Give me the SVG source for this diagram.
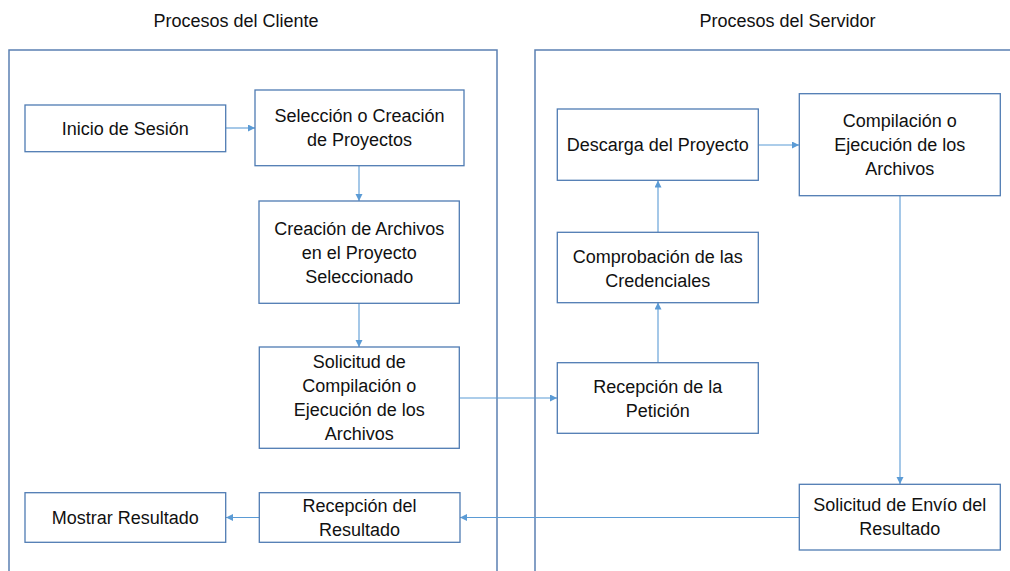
<svg xmlns="http://www.w3.org/2000/svg" width="1010" height="571" viewBox="0 0 1010 571">
<style>
.bg{fill:#ffffff}
.panel{fill:none;stroke:#5b80b2;stroke-width:1.5}
.box{fill:#ffffff;stroke:#4f7bb3;stroke-width:1.3}
.conn{fill:none;stroke:#5b9bd5;stroke-width:1.1}
.t{font-family:"Liberation Sans",Arial,sans-serif;font-size:18px;fill:#111;text-anchor:middle}
</style>
<defs>
<marker id="arr" markerUnits="userSpaceOnUse" markerWidth="8" markerHeight="8" refX="7" refY="3.5" orient="auto">
<path d="M0,0 L7,3.5 L0,7 z" fill="#5b9bd5"/>
</marker>
</defs>
<rect class="bg" x="0" y="0" width="1010" height="571"/>
<g id="panels">
<path class="panel" d="M9,572 V50 H497 V572"/>
<path class="panel" d="M535,572 V50 H1012"/>
<text class="t" x="236" y="27">Procesos del Cliente</text>
<text class="t" x="787.5" y="27">Procesos del Servidor</text>
</g>
<g id="connectors">
<path class="conn" d="M226,128 H255" marker-end="url(#arr)"/>
<path class="conn" d="M359,166 V201" marker-end="url(#arr)"/>
<path class="conn" d="M359,303.5 V347" marker-end="url(#arr)"/>
<path class="conn" d="M459.5,398 H557" marker-end="url(#arr)"/>
<path class="conn" d="M658,362.5 V302.5" marker-end="url(#arr)"/>
<path class="conn" d="M658,232 V180.5" marker-end="url(#arr)"/>
<path class="conn" d="M758.5,145 H799" marker-end="url(#arr)"/>
<path class="conn" d="M900,196 V484" marker-end="url(#arr)"/>
<path class="conn" d="M799,517.5 H460" marker-end="url(#arr)"/>
<path class="conn" d="M259,517.5 H226" marker-end="url(#arr)"/>
</g>
<g id="inicio">
<rect class="box" x="25" y="105" width="200.7" height="46.7"/>
<text class="t" x="125.3" y="134.8">Inicio de Sesión</text>
</g>
<g id="seleccion">
<rect class="box" x="255" y="90" width="209" height="75.7"/>
<text class="t" x="359.5" y="122.3">Selección o Creación</text>
<text class="t" x="359.5" y="146.3">de Proyectos</text>
</g>
<g id="creacion">
<rect class="box" x="259" y="201" width="200.3" height="102.3"/>
<text class="t" x="359.2" y="234.7">Creación de Archivos</text>
<text class="t" x="359.2" y="258.7">en el Proyecto</text>
<text class="t" x="359.2" y="282.7">Seleccionado</text>
</g>
<g id="solicitud">
<rect class="box" x="259.3" y="347" width="200" height="101.3"/>
<text class="t" x="359.3" y="368.2">Solicitud de</text>
<text class="t" x="359.3" y="392.2">Compilación o</text>
<text class="t" x="359.3" y="416.2">Ejecución de los</text>
<text class="t" x="359.3" y="440.2">Archivos</text>
</g>
<g id="recepcion-resultado">
<rect class="box" x="259.3" y="492.7" width="200.7" height="49.6"/>
<text class="t" x="359.6" y="511.5">Recepción del</text>
<text class="t" x="359.6" y="535.5">Resultado</text>
</g>
<g id="mostrar">
<rect class="box" x="25" y="492.7" width="200.7" height="49.6"/>
<text class="t" x="125.3" y="524">Mostrar Resultado</text>
</g>
<g id="descarga">
<rect class="box" x="557.3" y="109" width="201" height="71.3"/>
<text class="t" x="657.8" y="151.2">Descarga del Proyecto</text>
</g>
<g id="comprobacion">
<rect class="box" x="557.3" y="232.3" width="201" height="70.4"/>
<text class="t" x="657.8" y="262.5">Comprobación de las</text>
<text class="t" x="657.8" y="286.5">Credenciales</text>
</g>
<g id="recepcion-peticion">
<rect class="box" x="557.3" y="362.7" width="201" height="70.6"/>
<text class="t" x="657.8" y="392.5">Recepción de la</text>
<text class="t" x="657.8" y="416.5">Petición</text>
</g>
<g id="compilacion">
<rect class="box" x="799.3" y="93.7" width="201" height="102"/>
<text class="t" x="899.8" y="127.2">Compilación o</text>
<text class="t" x="899.8" y="151.2">Ejecución de los</text>
<text class="t" x="899.8" y="175.2">Archivos</text>
</g>
<g id="solicitud-envio">
<rect class="box" x="799.3" y="484.3" width="201" height="65.7"/>
<text class="t" x="899.8" y="511.2">Solicitud de Envío del</text>
<text class="t" x="899.8" y="535.2">Resultado</text>
</g>
</svg>
